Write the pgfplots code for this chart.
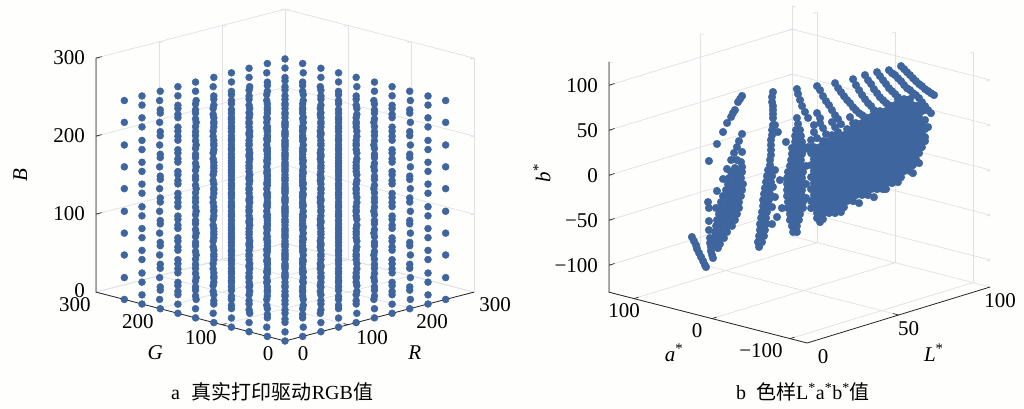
\documentclass[border=0pt]{standalone}
\usepackage{pgfplots}
\usepackage{pgfplotstable}
\pgfplotsset{compat=1.18}
\usepackage{fontspec}
\setmainfont{Liberation Serif}
\newfontfamily\cjk{Noto Sans CJK SC}
\definecolor{dot}{RGB}{62,101,158}
\definecolor{gridc}{RGB}{226,224,228}
\definecolor{paper}{RGB}{254,254,252}
\def\lab{\fontsize{21}{21}\selectfont}
\pgfplotsset{panel/.style={
  clip=false, disabledatascaling,
  grid=major, grid style={gridc,line width=0.7pt},
  axis line style={draw=none},
  tick style={gridc,line width=0.7pt}, major tick length=4pt, tick align=inside, tickpos=right, ticklabel pos=left,
  ticklabel style={font=\lab,inner sep=0pt},
  /pgf/number format/assume math mode=true,
},
dots/.style={only marks,mark=*,mark size=#1,mark options={draw=dot,fill=dot},color=dot},
axl/.style={black!85,line width=0.8pt,mark=none,forget plot},
tk/.style={black!85,line width=0.7pt,mark=none,forget plot}}
\pgfplotstableread[row sep=\\]{
R G B\\
0 0 0\\0 28 0\\0 57 0\\0 85 0\\0 113 0\\0 142 0\\0 170 0\\0 198 0\\0 227 0\\0 255 0\\
28 0 0\\28 28 0\\28 57 0\\28 85 0\\28 113 0\\28 142 0\\28 170 0\\28 198 0\\28 227 0\\28 255 0\\
57 0 0\\57 28 0\\57 57 0\\57 85 0\\57 113 0\\57 142 0\\57 170 0\\57 198 0\\57 227 0\\57 255 0\\
85 0 0\\85 28 0\\85 57 0\\85 85 0\\85 113 0\\85 142 0\\85 170 0\\85 198 0\\85 227 0\\85 255 0\\
113 0 0\\113 28 0\\113 57 0\\113 85 0\\113 113 0\\113 142 0\\113 170 0\\113 198 0\\113 227 0\\113 255 0\\
142 0 0\\142 28 0\\142 57 0\\142 85 0\\142 113 0\\142 142 0\\142 170 0\\142 198 0\\142 227 0\\142 255 0\\
170 0 0\\170 28 0\\170 57 0\\170 85 0\\170 113 0\\170 142 0\\170 170 0\\170 198 0\\170 227 0\\170 255 0\\
198 0 0\\198 28 0\\198 57 0\\198 85 0\\198 113 0\\198 142 0\\198 170 0\\198 198 0\\198 227 0\\198 255 0\\
227 0 0\\227 28 0\\227 57 0\\227 85 0\\227 113 0\\227 142 0\\227 170 0\\227 198 0\\227 227 0\\227 255 0\\
255 0 0\\255 28 0\\255 57 0\\255 85 0\\255 113 0\\255 142 0\\255 170 0\\255 198 0\\255 227 0\\255 255 0\\
0 0 28\\0 28 28\\0 57 28\\0 85 28\\0 113 28\\0 142 28\\0 170 28\\0 198 28\\0 227 28\\0 255 28\\
28 0 28\\28 28 28\\28 57 28\\28 85 28\\28 113 28\\28 142 28\\28 170 28\\28 198 28\\28 227 28\\28 255 28\\
57 0 28\\57 28 28\\57 57 28\\57 85 28\\57 113 28\\57 142 28\\57 170 28\\57 198 28\\57 227 28\\57 255 28\\
85 0 28\\85 28 28\\85 57 28\\85 85 28\\85 113 28\\85 142 28\\85 170 28\\85 198 28\\85 227 28\\85 255 28\\
113 0 28\\113 28 28\\113 57 28\\113 85 28\\113 113 28\\113 142 28\\113 170 28\\113 198 28\\113 227 28\\113 255 28\\
142 0 28\\142 28 28\\142 57 28\\142 85 28\\142 113 28\\142 142 28\\142 170 28\\142 198 28\\142 227 28\\142 255 28\\
170 0 28\\170 28 28\\170 57 28\\170 85 28\\170 113 28\\170 142 28\\170 170 28\\170 198 28\\170 227 28\\170 255 28\\
198 0 28\\198 28 28\\198 57 28\\198 85 28\\198 113 28\\198 142 28\\198 170 28\\198 198 28\\198 227 28\\198 255 28\\
227 0 28\\227 28 28\\227 57 28\\227 85 28\\227 113 28\\227 142 28\\227 170 28\\227 198 28\\227 227 28\\227 255 28\\
255 0 28\\255 28 28\\255 57 28\\255 85 28\\255 113 28\\255 142 28\\255 170 28\\255 198 28\\255 227 28\\255 255 28\\
0 0 57\\0 28 57\\0 57 57\\0 85 57\\0 113 57\\0 142 57\\0 170 57\\0 198 57\\0 227 57\\0 255 57\\
28 0 57\\28 28 57\\28 57 57\\28 85 57\\28 113 57\\28 142 57\\28 170 57\\28 198 57\\28 227 57\\28 255 57\\
57 0 57\\57 28 57\\57 57 57\\57 85 57\\57 113 57\\57 142 57\\57 170 57\\57 198 57\\57 227 57\\57 255 57\\
85 0 57\\85 28 57\\85 57 57\\85 85 57\\85 113 57\\85 142 57\\85 170 57\\85 198 57\\85 227 57\\85 255 57\\
113 0 57\\113 28 57\\113 57 57\\113 85 57\\113 113 57\\113 142 57\\113 170 57\\113 198 57\\113 227 57\\113 255 57\\
142 0 57\\142 28 57\\142 57 57\\142 85 57\\142 113 57\\142 142 57\\142 170 57\\142 198 57\\142 227 57\\142 255 57\\
170 0 57\\170 28 57\\170 57 57\\170 85 57\\170 113 57\\170 142 57\\170 170 57\\170 198 57\\170 227 57\\170 255 57\\
198 0 57\\198 28 57\\198 57 57\\198 85 57\\198 113 57\\198 142 57\\198 170 57\\198 198 57\\198 227 57\\198 255 57\\
227 0 57\\227 28 57\\227 57 57\\227 85 57\\227 113 57\\227 142 57\\227 170 57\\227 198 57\\227 227 57\\227 255 57\\
255 0 57\\255 28 57\\255 57 57\\255 85 57\\255 113 57\\255 142 57\\255 170 57\\255 198 57\\255 227 57\\255 255 57\\
0 0 85\\0 28 85\\0 57 85\\0 85 85\\0 113 85\\0 142 85\\0 170 85\\0 198 85\\0 227 85\\0 255 85\\
28 0 85\\28 28 85\\28 57 85\\28 85 85\\28 113 85\\28 142 85\\28 170 85\\28 198 85\\28 227 85\\28 255 85\\
57 0 85\\57 28 85\\57 57 85\\57 85 85\\57 113 85\\57 142 85\\57 170 85\\57 198 85\\57 227 85\\57 255 85\\
85 0 85\\85 28 85\\85 57 85\\85 85 85\\85 113 85\\85 142 85\\85 170 85\\85 198 85\\85 227 85\\85 255 85\\
113 0 85\\113 28 85\\113 57 85\\113 85 85\\113 113 85\\113 142 85\\113 170 85\\113 198 85\\113 227 85\\113 255 85\\
142 0 85\\142 28 85\\142 57 85\\142 85 85\\142 113 85\\142 142 85\\142 170 85\\142 198 85\\142 227 85\\142 255 85\\
170 0 85\\170 28 85\\170 57 85\\170 85 85\\170 113 85\\170 142 85\\170 170 85\\170 198 85\\170 227 85\\170 255 85\\
198 0 85\\198 28 85\\198 57 85\\198 85 85\\198 113 85\\198 142 85\\198 170 85\\198 198 85\\198 227 85\\198 255 85\\
227 0 85\\227 28 85\\227 57 85\\227 85 85\\227 113 85\\227 142 85\\227 170 85\\227 198 85\\227 227 85\\227 255 85\\
255 0 85\\255 28 85\\255 57 85\\255 85 85\\255 113 85\\255 142 85\\255 170 85\\255 198 85\\255 227 85\\255 255 85\\
0 0 113\\0 28 113\\0 57 113\\0 85 113\\0 113 113\\0 142 113\\0 170 113\\0 198 113\\0 227 113\\0 255 113\\
28 0 113\\28 28 113\\28 57 113\\28 85 113\\28 113 113\\28 142 113\\28 170 113\\28 198 113\\28 227 113\\28 255 113\\
57 0 113\\57 28 113\\57 57 113\\57 85 113\\57 113 113\\57 142 113\\57 170 113\\57 198 113\\57 227 113\\57 255 113\\
85 0 113\\85 28 113\\85 57 113\\85 85 113\\85 113 113\\85 142 113\\85 170 113\\85 198 113\\85 227 113\\85 255 113\\
113 0 113\\113 28 113\\113 57 113\\113 85 113\\113 113 113\\113 142 113\\113 170 113\\113 198 113\\113 227 113\\113 255 113\\
142 0 113\\142 28 113\\142 57 113\\142 85 113\\142 113 113\\142 142 113\\142 170 113\\142 198 113\\142 227 113\\142 255 113\\
170 0 113\\170 28 113\\170 57 113\\170 85 113\\170 113 113\\170 142 113\\170 170 113\\170 198 113\\170 227 113\\170 255 113\\
198 0 113\\198 28 113\\198 57 113\\198 85 113\\198 113 113\\198 142 113\\198 170 113\\198 198 113\\198 227 113\\198 255 113\\
227 0 113\\227 28 113\\227 57 113\\227 85 113\\227 113 113\\227 142 113\\227 170 113\\227 198 113\\227 227 113\\227 255 113\\
255 0 113\\255 28 113\\255 57 113\\255 85 113\\255 113 113\\255 142 113\\255 170 113\\255 198 113\\255 227 113\\255 255 113\\
0 0 142\\0 28 142\\0 57 142\\0 85 142\\0 113 142\\0 142 142\\0 170 142\\0 198 142\\0 227 142\\0 255 142\\
28 0 142\\28 28 142\\28 57 142\\28 85 142\\28 113 142\\28 142 142\\28 170 142\\28 198 142\\28 227 142\\28 255 142\\
57 0 142\\57 28 142\\57 57 142\\57 85 142\\57 113 142\\57 142 142\\57 170 142\\57 198 142\\57 227 142\\57 255 142\\
85 0 142\\85 28 142\\85 57 142\\85 85 142\\85 113 142\\85 142 142\\85 170 142\\85 198 142\\85 227 142\\85 255 142\\
113 0 142\\113 28 142\\113 57 142\\113 85 142\\113 113 142\\113 142 142\\113 170 142\\113 198 142\\113 227 142\\113 255 142\\
142 0 142\\142 28 142\\142 57 142\\142 85 142\\142 113 142\\142 142 142\\142 170 142\\142 198 142\\142 227 142\\142 255 142\\
170 0 142\\170 28 142\\170 57 142\\170 85 142\\170 113 142\\170 142 142\\170 170 142\\170 198 142\\170 227 142\\170 255 142\\
198 0 142\\198 28 142\\198 57 142\\198 85 142\\198 113 142\\198 142 142\\198 170 142\\198 198 142\\198 227 142\\198 255 142\\
227 0 142\\227 28 142\\227 57 142\\227 85 142\\227 113 142\\227 142 142\\227 170 142\\227 198 142\\227 227 142\\227 255 142\\
255 0 142\\255 28 142\\255 57 142\\255 85 142\\255 113 142\\255 142 142\\255 170 142\\255 198 142\\255 227 142\\255 255 142\\
0 0 170\\0 28 170\\0 57 170\\0 85 170\\0 113 170\\0 142 170\\0 170 170\\0 198 170\\0 227 170\\0 255 170\\
28 0 170\\28 28 170\\28 57 170\\28 85 170\\28 113 170\\28 142 170\\28 170 170\\28 198 170\\28 227 170\\28 255 170\\
57 0 170\\57 28 170\\57 57 170\\57 85 170\\57 113 170\\57 142 170\\57 170 170\\57 198 170\\57 227 170\\57 255 170\\
85 0 170\\85 28 170\\85 57 170\\85 85 170\\85 113 170\\85 142 170\\85 170 170\\85 198 170\\85 227 170\\85 255 170\\
113 0 170\\113 28 170\\113 57 170\\113 85 170\\113 113 170\\113 142 170\\113 170 170\\113 198 170\\113 227 170\\113 255 170\\
142 0 170\\142 28 170\\142 57 170\\142 85 170\\142 113 170\\142 142 170\\142 170 170\\142 198 170\\142 227 170\\142 255 170\\
170 0 170\\170 28 170\\170 57 170\\170 85 170\\170 113 170\\170 142 170\\170 170 170\\170 198 170\\170 227 170\\170 255 170\\
198 0 170\\198 28 170\\198 57 170\\198 85 170\\198 113 170\\198 142 170\\198 170 170\\198 198 170\\198 227 170\\198 255 170\\
227 0 170\\227 28 170\\227 57 170\\227 85 170\\227 113 170\\227 142 170\\227 170 170\\227 198 170\\227 227 170\\227 255 170\\
255 0 170\\255 28 170\\255 57 170\\255 85 170\\255 113 170\\255 142 170\\255 170 170\\255 198 170\\255 227 170\\255 255 170\\
0 0 198\\0 28 198\\0 57 198\\0 85 198\\0 113 198\\0 142 198\\0 170 198\\0 198 198\\0 227 198\\0 255 198\\
28 0 198\\28 28 198\\28 57 198\\28 85 198\\28 113 198\\28 142 198\\28 170 198\\28 198 198\\28 227 198\\28 255 198\\
57 0 198\\57 28 198\\57 57 198\\57 85 198\\57 113 198\\57 142 198\\57 170 198\\57 198 198\\57 227 198\\57 255 198\\
85 0 198\\85 28 198\\85 57 198\\85 85 198\\85 113 198\\85 142 198\\85 170 198\\85 198 198\\85 227 198\\85 255 198\\
113 0 198\\113 28 198\\113 57 198\\113 85 198\\113 113 198\\113 142 198\\113 170 198\\113 198 198\\113 227 198\\113 255 198\\
142 0 198\\142 28 198\\142 57 198\\142 85 198\\142 113 198\\142 142 198\\142 170 198\\142 198 198\\142 227 198\\142 255 198\\
170 0 198\\170 28 198\\170 57 198\\170 85 198\\170 113 198\\170 142 198\\170 170 198\\170 198 198\\170 227 198\\170 255 198\\
198 0 198\\198 28 198\\198 57 198\\198 85 198\\198 113 198\\198 142 198\\198 170 198\\198 198 198\\198 227 198\\198 255 198\\
227 0 198\\227 28 198\\227 57 198\\227 85 198\\227 113 198\\227 142 198\\227 170 198\\227 198 198\\227 227 198\\227 255 198\\
255 0 198\\255 28 198\\255 57 198\\255 85 198\\255 113 198\\255 142 198\\255 170 198\\255 198 198\\255 227 198\\255 255 198\\
0 0 227\\0 28 227\\0 57 227\\0 85 227\\0 113 227\\0 142 227\\0 170 227\\0 198 227\\0 227 227\\0 255 227\\
28 0 227\\28 28 227\\28 57 227\\28 85 227\\28 113 227\\28 142 227\\28 170 227\\28 198 227\\28 227 227\\28 255 227\\
57 0 227\\57 28 227\\57 57 227\\57 85 227\\57 113 227\\57 142 227\\57 170 227\\57 198 227\\57 227 227\\57 255 227\\
85 0 227\\85 28 227\\85 57 227\\85 85 227\\85 113 227\\85 142 227\\85 170 227\\85 198 227\\85 227 227\\85 255 227\\
113 0 227\\113 28 227\\113 57 227\\113 85 227\\113 113 227\\113 142 227\\113 170 227\\113 198 227\\113 227 227\\113 255 227\\
142 0 227\\142 28 227\\142 57 227\\142 85 227\\142 113 227\\142 142 227\\142 170 227\\142 198 227\\142 227 227\\142 255 227\\
170 0 227\\170 28 227\\170 57 227\\170 85 227\\170 113 227\\170 142 227\\170 170 227\\170 198 227\\170 227 227\\170 255 227\\
198 0 227\\198 28 227\\198 57 227\\198 85 227\\198 113 227\\198 142 227\\198 170 227\\198 198 227\\198 227 227\\198 255 227\\
227 0 227\\227 28 227\\227 57 227\\227 85 227\\227 113 227\\227 142 227\\227 170 227\\227 198 227\\227 227 227\\227 255 227\\
255 0 227\\255 28 227\\255 57 227\\255 85 227\\255 113 227\\255 142 227\\255 170 227\\255 198 227\\255 227 227\\255 255 227\\
0 0 255\\0 28 255\\0 57 255\\0 85 255\\0 113 255\\0 142 255\\0 170 255\\0 198 255\\0 227 255\\0 255 255\\
28 0 255\\28 28 255\\28 57 255\\28 85 255\\28 113 255\\28 142 255\\28 170 255\\28 198 255\\28 227 255\\28 255 255\\
57 0 255\\57 28 255\\57 57 255\\57 85 255\\57 113 255\\57 142 255\\57 170 255\\57 198 255\\57 227 255\\57 255 255\\
85 0 255\\85 28 255\\85 57 255\\85 85 255\\85 113 255\\85 142 255\\85 170 255\\85 198 255\\85 227 255\\85 255 255\\
113 0 255\\113 28 255\\113 57 255\\113 85 255\\113 113 255\\113 142 255\\113 170 255\\113 198 255\\113 227 255\\113 255 255\\
142 0 255\\142 28 255\\142 57 255\\142 85 255\\142 113 255\\142 142 255\\142 170 255\\142 198 255\\142 227 255\\142 255 255\\
170 0 255\\170 28 255\\170 57 255\\170 85 255\\170 113 255\\170 142 255\\170 170 255\\170 198 255\\170 227 255\\170 255 255\\
198 0 255\\198 28 255\\198 57 255\\198 85 255\\198 113 255\\198 142 255\\198 170 255\\198 198 255\\198 227 255\\198 255 255\\
227 0 255\\227 28 255\\227 57 255\\227 85 255\\227 113 255\\227 142 255\\227 170 255\\227 198 255\\227 227 255\\227 255 255\\
255 0 255\\255 28 255\\255 57 255\\255 85 255\\255 113 255\\255 142 255\\255 170 255\\255 198 255\\255 227 255\\255 255 255\\
}\rgbdata
\pgfplotstableread[row sep=\\]{
L a b\\
14.6 60 -61.8\\15.7 60 -66.9\\16.8 60 -72\\17.4 60 -76.8\\18.5 60 -81.9\\19.6 60 -87.1\\20.7 60 -92.2\\21.7 60 -97.3\\22.3 60 -99.9\\
23.4 60 -28.4\\23.9 60 -35.3\\23.9 60 -49.8\\23.9 60 -59.8\\24.5 60 -69\\24.5 60 -74.5\\25 60 -79.4\\25 60 -83.8\\25.6 60 -88.6\\26.1 60 -92.3\\
42 60 77.9\\39.8 60 72.5\\38.1 60 64.7\\36 60 58.3\\40.9 60 75.2\\37 60 61.9\\33.8 60 53\\31.6 60 44.3\\28.3 60 33.1\\23.9 60 16.9\\
42 60 35.7\\40.3 60 28.9\\39.2 60 22.9\\37.6 60 17.3\\36 60 10.5\\33.8 60 1.9\\31.6 60 -7.9\\28.3 60 -19.2\\
42 60 15.7\\41.4 60 4.9\\42 60 -1\\39.8 60 -3\\39.2 60 8.5\\38.1 60 0.3\\
36 60 -2.8\\39.2 60 -4.8\\42 60 -6.5\\34.9 60 -8.8\\38.1 60 -10.8\\41.4 60 -12.9\\
34.3 60 -15.2\\37.6 60 -17.2\\40.9 60 -19.2\\42.5 60 -20.3\\33.2 60 -21.1\\36.5 60 -23.1\\39.8 60 -25.2\\42 60 -26.5\\
31.6 60 -26.8\\34.9 60 -28.8\\38.1 60 -30.8\\41.4 60 -32.9\\30.5 60 -32.8\\33.8 60 -34.8\\37 60 -36.9\\40.3 60 -38.9\\
27.8 60 -37.7\\31 60 -39.7\\34.3 60 -41.8\\37.6 60 -43.8\\40.3 60 -45.5\\29.4 60 -45.4\\32.7 60 -47.4\\36 60 -49.5\\39.2 60 -51.5\\
28.3 60 -51.4\\31.6 60 -53.5\\34.9 60 -55.5\\38.1 60 -57.5\\27.8 60 -57.7\\31 60 -59.7\\34.3 60 -61.8\\36.5 60 -63.1\\
27.2 60 -64\\30.5 60 -66.1\\33.8 60 -68.1\\26.7 60 -70.4\\29.9 60 -72.4\\32.1 60 -73.8\\27.8 60 -77.7\\29.9 60 -79\\28.8 60 -82.9\\
46.1 30 86.4\\45.6 30 81.1\\45.6 30 75.6\\46.1 30 70.8\\46.1 30 66.4\\46.1 30 62\\46.1 30 57.5\\46.1 30 49.7\\47.2 30 49\\45.6 30 44.5\\45.6 30 38.9\\45 30 33.8\\45 30 28.2\\45 30 22.7\\45 30 17.1\\44.5 30 11.9\\44.5 30 6.3\\
48.8 30 40.3\\53.2 30 26.5\\47.2 30 -1\\
43.4 30 1.4\\45.6 30 0\\42.8 30 -4.9\\45.6 30 -6.6\\42.3 30 -11.2\\45 30 -12.9\\41.7 30 -17.6\\44.5 30 -19.3\\41.2 30 -23.8\\44.5 30 -25.9\\40.7 30 -30.2\\43.9 30 -32.2\\40.7 30 -36.9\\43.4 30 -38.6\\40.1 30 -43.2\\42.8 30 -44.9\\39.6 30 -49.5\\42.3 30 -51.2\\39 30 -55.9\\42.3 30 -57.9\\39 30 -62.5\\41.7 30 -64.2\\38.5 30 -68.8\\41.2 30 -70.5\\37.9 30 -75.2\\40.1 30 -76.6\\38.5 30 -81\\
49.9 30 -13.8\\46.1 30 -19.1\\47.2 30 -31\\45.6 30 -41.1\\51 30 -45.6\\48.3 30 -53.9\\45.6 30 -60\\
46.4 0 64\\47 0 57\\45.9 0 51\\48.1 0 49.7\\45.4 0 44.7\\48.6 0 42.6\\45.4 0 38\\47.5 0 36.6\\49.2 0 35.6\\43.7 0 32.4\\46.4 0 30.7\\49.2 0 29\\43.7 0 25.7\\46.4 0 24\\49.2 0 22.3\\43.2 0 19.3\\45.9 0 17.6\\48.6 0 15.9\\42.6 0 13.1\\45.4 0 11.4\\48.1 0 9.7\\41.5 0 7.1\\44.3 0 5.4\\47 0 3.7\\49.7 0 2\\41 0 0.7\\43.7 0 -1\\46.4 0 -2.7\\49.2 0 -4.4\\41 0 -5.9\\43.7 0 -7.6\\46.4 0 -9.3\\49.2 0 -11\\41 0 -12.6\\43.7 0 -14.3\\46.4 0 -16\\49.2 0 -17.7\\41 0 -19.3\\43.7 0 -21\\46.4 0 -22.7\\49.2 0 -24.4\\41.5 0 -26.2\\44.3 0 -27.9\\47 0 -29.6\\49.7 0 -31.3\\41.5 0 -32.9\\44.3 0 -34.6\\47 0 -36.3\\49.7 0 -38\\42.6 0 -40.3\\45.4 0 -42\\48.1 0 -43.7\\42.6 0 -46.9\\45.4 0 -48.6\\47.5 0 -50\\43.7 0 -54.3\\46.4 0 -56\\44.3 0 -61.3\\46.4 0 -62.7\\
50.8 0 26.8\\51.4 0 7.6\\51.4 0 -12.4\\51.4 0 -28\\
46.4 0 96.2\\47 0 90.3\\48.1 0 83\\49.2 0 75.6\\50.8 0 68\\52.5 0 60.3\\
82.8 -44.1 72.1\\85 -46.8 71.4\\87.1 -49.5 70.7\\
79.6 -40.1 66.5\\81.8 -42.8 65.8\\83.9 -45.5 65\\86 -48.2 64.3\\88.1 -50.9 63.6\\90.3 -53.6 62.9\\
74.3 -33.3 61.7\\76.4 -36 61\\78.6 -38.7 60.3\\80.7 -41.4 59.5\\82.8 -44.1 58.8\\85 -46.8 58.1\\87.1 -49.5 57.4\\89.2 -52.2 56.6\\91.3 -54.9 55.9\\
71.1 -29.3 56.1\\73.3 -32 55.4\\75.4 -34.7 54.6\\77.5 -37.4 53.9\\79.6 -40.1 53.2\\81.8 -42.8 52.5\\83.9 -45.5 51.7\\86 -48.2 51\\88.1 -50.9 50.3\\90.3 -53.6 49.6\\
67.9 -25.2 50.5\\70.1 -27.9 49.8\\72.2 -30.6 49\\74.3 -33.3 48.3\\76.4 -36 47.6\\78.6 -38.7 46.9\\80.7 -41.4 46.1\\82.8 -44.1 45.4\\85 -46.8 44.7\\87.1 -49.5 44\\89.2 -52.2 43.2\\91.3 -54.9 42.5\\
64.8 -21.2 45\\66.9 -23.9 44.2\\69 -26.6 43.5\\71.1 -29.3 42.8\\73.3 -32 42.1\\75.4 -34.7 41.3\\77.5 -37.4 40.6\\79.6 -40.1 39.9\\81.8 -42.8 39.2\\83.9 -45.5 38.4\\86 -48.2 37.7\\88.1 -50.9 37\\90.3 -53.6 36.3\\92.4 -56.3 35.6\\
59.4 -14.4 40.1\\61.6 -17.1 39.4\\63.7 -19.8 38.6\\65.8 -22.5 37.9\\67.9 -25.2 37.2\\70.1 -27.9 36.5\\72.2 -30.6 35.7\\74.3 -33.3 35\\76.4 -36 34.3\\78.6 -38.7 33.6\\80.7 -41.4 32.8\\82.8 -44.1 32.1\\85 -46.8 31.4\\87.1 -49.5 30.7\\89.2 -52.2 29.9\\91.3 -54.9 29.2\\
56.2 -10.4 34.5\\58.4 -13 33.7\\60.5 -15.8 33\\62.6 -18.5 32.3\\64.8 -21.2 31.6\\66.9 -23.9 30.8\\69 -26.6 30.1\\71.1 -29.3 29.4\\73.3 -32 28.7\\75.4 -34.7 27.9\\77.5 -37.4 27.2\\79.6 -40.1 26.5\\81.8 -42.8 25.8\\83.9 -45.5 25\\86 -48.2 24.3\\88.1 -50.9 23.6\\90.3 -53.6 22.9\\92.4 -56.3 22.2\\
53 -6.3 29\\55.2 -9 28.2\\57.3 -11.7 27.5\\59.4 -14.4 26.8\\61.6 -17.1 26.1\\63.7 -19.8 25.3\\65.8 -22.5 24.6\\67.9 -25.2 23.9\\70.1 -27.9 23.2\\72.2 -30.6 22.4\\74.3 -33.3 21.7\\76.4 -36 21\\78.6 -38.7 20.3\\80.7 -41.4 19.5\\82.8 -44.1 18.8\\85 -46.8 18.1\\87.1 -49.5 17.4\\89.2 -52.2 16.6\\91.3 -54.9 15.9\\
52 -5 22.6\\54.1 -7.7 21.9\\56.2 -10.4 21.2\\58.4 -13 20.4\\60.5 -15.8 19.7\\62.6 -18.5 19\\64.8 -21.2 18.3\\66.9 -23.9 17.5\\69 -26.6 16.8\\71.1 -29.3 16.1\\73.3 -32 15.4\\75.4 -34.7 14.6\\77.5 -37.4 13.9\\79.6 -40.1 13.2\\81.8 -42.8 12.5\\83.9 -45.5 11.7\\86 -48.2 11\\88.1 -50.9 10.3\\90.3 -53.6 9.6\\
53 -6.3 15.7\\55.2 -9 14.9\\57.3 -11.7 14.2\\59.4 -14.4 13.5\\61.6 -17.1 12.8\\63.7 -19.8 12\\65.8 -22.5 11.3\\67.9 -25.2 10.6\\70.1 -27.9 9.9\\72.2 -30.6 9.1\\74.3 -33.3 8.4\\76.4 -36 7.7\\78.6 -38.7 7\\80.7 -41.4 6.2\\82.8 -44.1 5.5\\85 -46.8 4.8\\87.1 -49.5 4.1\\89.2 -52.2 3.3\\
52 -5 9.3\\54.1 -7.7 8.6\\56.2 -10.4 7.9\\58.4 -13 7.1\\60.5 -15.8 6.4\\62.6 -18.5 5.7\\64.8 -21.2 5\\66.9 -23.9 4.2\\69 -26.6 3.5\\71.1 -29.3 2.8\\73.3 -32 2.1\\75.4 -34.7 1.3\\77.5 -37.4 0.6\\79.6 -40.1 -0.1\\81.8 -42.8 -0.8\\83.9 -45.5 -1.6\\86 -48.2 -2.3\\88.1 -50.9 -3\\
53 -6.3 2.3\\55.2 -9 1.5\\57.3 -11.7 0.8\\59.4 -14.4 0.1\\61.6 -17.1 -0.6\\63.7 -19.8 -1.4\\65.8 -22.5 -2.1\\67.9 -25.2 -2.8\\70.1 -27.9 -3.5\\72.2 -30.6 -4.3\\74.3 -33.3 -5\\76.4 -36 -5.7\\78.6 -38.7 -6.4\\80.7 -41.4 -7.2\\82.8 -44.1 -7.9\\85 -46.8 -8.6\\87.1 -49.5 -9.3\\
52 -5 -4\\54.1 -7.7 -4.7\\56.2 -10.4 -5.4\\58.4 -13 -6.2\\60.5 -15.8 -6.9\\62.6 -18.5 -7.6\\64.8 -21.2 -8.3\\66.9 -23.9 -9.1\\69 -26.6 -9.8\\71.1 -29.3 -10.5\\73.3 -32 -11.2\\75.4 -34.7 -12\\77.5 -37.4 -12.7\\79.6 -40.1 -13.4\\81.8 -42.8 -14.1\\83.9 -45.5 -14.9\\
53 -6.3 -11\\55.2 -9 -11.8\\57.3 -11.7 -12.5\\59.4 -14.4 -13.2\\61.6 -17.1 -13.9\\63.7 -19.8 -14.7\\65.8 -22.5 -15.4\\67.9 -25.2 -16.1\\70.1 -27.9 -16.8\\72.2 -30.6 -17.6\\74.3 -33.3 -18.3\\76.4 -36 -19\\78.6 -38.7 -19.7\\80.7 -41.4 -20.5\\
52 -5 -17.4\\54.1 -7.7 -18.1\\56.2 -10.4 -18.8\\58.4 -13 -19.6\\60.5 -15.8 -20.3\\62.6 -18.5 -21\\64.8 -21.2 -21.7\\66.9 -23.9 -22.5\\69 -26.6 -23.2\\71.1 -29.3 -23.9\\73.3 -32 -24.6\\75.4 -34.7 -25.4\\77.5 -37.4 -26.1\\
53 -6.3 -24.3\\55.2 -9 -25.1\\57.3 -11.7 -25.8\\59.4 -14.4 -26.5\\61.6 -17.1 -27.2\\63.7 -19.8 -28\\65.8 -22.5 -28.7\\67.9 -25.2 -29.4\\70.1 -27.9 -30.1\\72.2 -30.6 -30.9\\
52 -5 -30.7\\54.1 -7.7 -31.4\\56.2 -10.4 -32.1\\58.4 -13 -32.9\\60.5 -15.8 -33.6\\62.6 -18.5 -34.3\\64.8 -21.2 -35\\66.9 -23.9 -35.8\\
53 -6.3 -37.7\\55.2 -9 -38.5\\57.3 -11.7 -39.2\\59.4 -14.4 -39.9\\61.6 -17.1 -40.6\\63.7 -19.8 -41.4\\
54.1 -7.7 -44.7\\56.2 -10.4 -45.4\\58.4 -13 -46.2\\60.5 -15.8 -46.9\\55.2 -9 -51.8\\56.2 -10.4 -52.1\\
62.6 -18.5 -46.5\\69 -26.6 -38.7\\74.3 -33.3 -33.9\\78.6 -38.7 -26.4\\82.8 -44.1 -20.1\\88.1 -50.9 -11.9\\90.3 -53.6 -1.5\\55.2 -9 -55.1\\
54.1 -7.7 96.4\\55.2 -9 91.5\\56.2 -10.4 84.5\\57.3 -11.7 78.6\\58.4 -13 73.7\\59.4 -14.4 67.9\\60.5 -15.8 61.9\\61.6 -17.1 57.2\\62.6 -18.5 51.2\\
60.5 -15.8 97.5\\61.6 -17.1 91.6\\62.6 -18.5 86.8\\63.7 -19.8 81.9\\64.8 -21.2 77.2\\65.8 -22.5 73.5\\66.9 -23.9 68.6\\67.9 -25.2 65\\69 -26.6 61.3\\70.1 -27.9 58.7\\71.1 -29.3 55\\
66.9 -23.9 99.7\\67.9 -25.2 92.8\\69 -26.6 86.8\\70.1 -27.9 81\\71.1 -29.3 76.1\\72.2 -30.6 71.3\\73.3 -32 67.6\\74.3 -33.3 62.8\\
71.1 -29.3 102.8\\72.2 -30.6 96.8\\73.3 -32 92.1\\74.3 -33.3 86.1\\75.4 -34.7 81.3\\76.4 -36 76.5\\77.5 -37.4 72.8\\78.6 -38.7 69.2\\
75.4 -34.7 104.6\\76.4 -36 99.9\\77.5 -37.4 95\\78.6 -38.7 90.3\\79.6 -40.1 85.4\\80.7 -41.4 81.7\\81.8 -42.8 78.1\\82.8 -44.1 74.3\\
79.6 -40.1 105.4\\80.7 -41.4 101.7\\81.8 -42.8 99.2\\82.8 -44.1 95.4\\83.9 -45.5 91.7\\85 -46.8 87\\86 -48.2 83.2\\87.1 -49.5 80.7\\88.1 -50.9 77\\89.2 -52.2 74.4\\90.3 -53.6 70.7\\91.3 -54.9 65.9\\92.4 -56.3 61.1\\93.5 -57.6 56.3\\94.5 -59 52.6\\
83.9 -45.5 108.4\\85 -46.8 104.7\\86 -48.2 101\\87.1 -49.5 97.4\\88.1 -50.9 93.6\\89.2 -52.2 89.9\\90.3 -53.6 86.3\\91.3 -54.9 83.7\\92.4 -56.3 80\\93.5 -57.6 77.4\\94.5 -59 74.8\\95.6 -60.3 72.3\\
92.4 -56.3 56.7\\93.5 -57.6 37.4\\92.4 -56.3 26.7\\92.4 -56.3 45.6\\
54.1 -7.7 66.4\\55.2 -9 60.4\\55.2 -9 54.8\\56.2 -10.4 49\\57.3 -11.7 41.9\\59.4 -14.4 54.6\\60.5 -15.8 48.6\\61.6 -17.1 42.7\\65.8 -22.5 57.9\\66.9 -23.9 50.8\\
53 -6.3 53.4\\53 -6.3 45.6\\54.1 -7.7 38.6\\52 -5 37.1\\50.9 -3.6 29.7\\52 -5 -38.5\\54.1 -7.7 -50.3\\
}\labdata
\begin{document}
\begin{tikzpicture}[x=1pt,y=1pt]
\fill[paper] (0,0) rectangle (1024,409);
\useasboundingbox (0,0) rectangle (1024,409);
\begin{axis}[panel, at={(285pt,68pt)}, anchor=origin,
  x={(0.63pt,0.163pt)}, y={(-0.63pt,0.163pt)}, z={(0pt,0.78pt)},
  xmin=0,xmax=300,ymin=0,ymax=300,zmin=0,zmax=300,
  xtick={0,100,200,300},ytick={0,100,200,300},ztick={0,100,200,300},
  xticklabels={\hspace*{-6pt}0,\hspace*{6pt}100,200,300},
  yticklabels={\hspace*{8pt}0,100,200,\raisebox{-2pt}{300}},
  zticklabels={\raisebox{4pt}{0},100,200,300},
  xticklabel style={anchor=center,xshift=21pt,yshift=-13pt},
  yticklabel style={anchor=center,xshift=-21pt,yshift=-13pt},
  zticklabel style={anchor=east,xshift=-11pt},
  xlabel={\textit{R}},ylabel={\textit{G}},zlabel={\textit{B}},
  every axis x label/.style={at={(axis cs:66,-140,0)},anchor=center,font=\lab},
  every axis y label/.style={at={(axis cs:-140,66,0)},anchor=center,font=\lab},
  every axis z label/.style={at={(axis cs:0,420,125)},anchor=center,rotate=90,font=\lab},
]
\addplot3[dots=3.5pt] table[x=R,y=G,z=B] {\rgbdata};
\addplot3[axl] coordinates {(0,300,300)(0,300,0)(0,0,0)(300,0,0)};
\addplot3[tk] coordinates {(100,0,0)(100,7,0)};
\addplot3[tk] coordinates {(200,0,0)(200,7,0)};
\addplot3[tk] coordinates {(0,100,0)(7,100,0)};
\addplot3[tk] coordinates {(0,200,0)(7,200,0)};
\addplot3[tk] coordinates {(0,300,100)(9,300,100)};
\addplot3[tk] coordinates {(0,300,200)(9,300,200)};
\addplot3[tk] coordinates {(0,300,300)(9,300,300)};
\end{axis}
\begin{axis}[panel, at={(712pt,207.4pt)}, anchor=origin,
  x={(1.83pt,0.56pt)}, y={(-0.78pt,0.2pt)}, z={(0pt,0.9pt)},
  xmin=0,xmax=100,ymin=-122,ymax=132,zmin=-130,zmax=126,
  xtick={0,50,100},ytick={-100,0,100},ztick={-100,-50,0,50,100},
  zticklabels={−100,−50,0,50,100},yticklabels={−100\hspace*{22pt},\hspace*{6pt}0,\hspace*{16pt}100},
  xticklabels={\hspace*{12pt}0,\hspace*{0pt}50,\raisebox{-5pt}{100}},
  xticklabel style={anchor=center,xshift=10pt,yshift=-14pt},
  yticklabel style={anchor=center,xshift=-18pt,yshift=-12pt},
  zticklabel style={anchor=east,xshift=-11pt},
  xlabel={\textit{L}\textsuperscript{*}},ylabel={\textit{a}\textsuperscript{*}},zlabel={\textit{b}\textsuperscript{*}},
  every axis x label/.style={at={(axis cs:21.9,-233,-130)},anchor=center,font=\lab},
  every axis y label/.style={at={(axis cs:-42.9,-51.9,-130)},anchor=center,font=\lab},
  every axis z label/.style={at={(axis cs:0,218,-16.7)},anchor=center,rotate=90,font=\lab},
]
\addplot3[dots=3.8pt] table[x=L,y=a,z=b] {\labdata};
\addplot3[axl] coordinates {(0,132,126)(0,132,-130)(0,-122,-130)(100,-122,-130)};
\addplot3[tk] coordinates {(50,-122,-130)(50,-115,-130)};
\addplot3[tk] coordinates {(0,-100,-130)(2.5,-100,-130)};
\addplot3[tk] coordinates {(0,0,-130)(2.5,0,-130)};
\addplot3[tk] coordinates {(0,100,-130)(2.5,100,-130)};
\addplot3[tk] coordinates {(0,132,-100)(3,132,-100)};
\addplot3[tk] coordinates {(0,132,-50)(3,132,-50)};
\addplot3[tk] coordinates {(0,132,0)(3,132,0)};
\addplot3[tk] coordinates {(0,132,50)(3,132,50)};
\addplot3[tk] coordinates {(0,132,100)(3,132,100)};
\end{axis}
\node[font=\fontsize{20}{20}\selectfont] at (272,17) {a\hspace{0.6em}{\cjk 真实打印驱动}RGB{\cjk 值}};
\node[font=\fontsize{20}{20}\selectfont] at (803,17) {b\hspace{0.5em}{\cjk 色样}L\textsuperscript{*}a\textsuperscript{*}b\textsuperscript{*}{\cjk 值}};
\end{tikzpicture}
\end{document}
